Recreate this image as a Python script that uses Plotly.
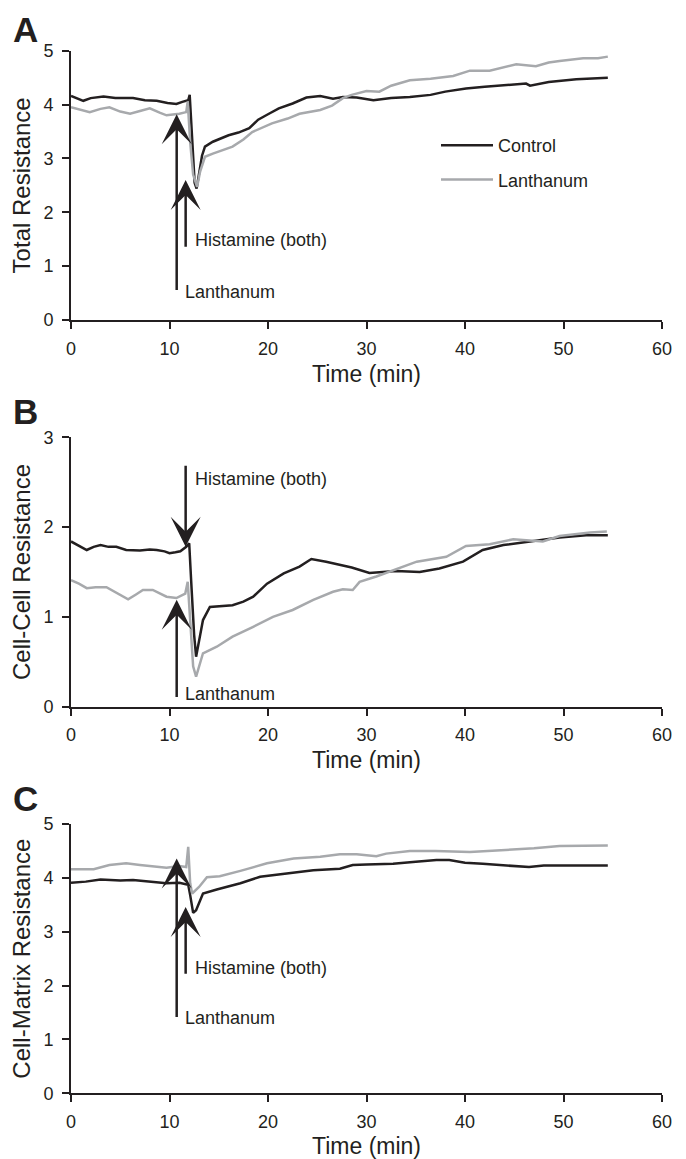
import plotly.graph_objects as go

# ---------------- data ----------------
# Panel A: Total Resistance
t_a_ctrl = [0, 0.6, 1.25, 2.0, 3.3, 4.5, 6.3, 7.5, 8.7, 9.8, 10.7, 11.3, 11.9, 12.05, 12.3, 12.55,
            12.75, 13.0, 13.3, 13.6, 14.4, 16.0, 17.0, 18.1, 19.0, 20.0, 21.1, 22.5, 23.9, 25.3,
            26.6, 27.6, 29.0, 30.7, 32.5, 34.4, 36.5, 38.0, 40.1, 42.0, 44.0, 46.2, 46.6, 48.5,
            51.3, 53.0, 54.5]
r_a_ctrl = [4.16, 4.12, 4.07, 4.12, 4.15, 4.12, 4.12, 4.08, 4.07, 4.03, 4.01, 4.05, 4.08, 4.18, 3.3, 2.55,
            2.44, 2.7, 3.05, 3.22, 3.31, 3.43, 3.48, 3.56, 3.72, 3.82, 3.93, 4.02, 4.13, 4.16,
            4.11, 4.14, 4.13, 4.08, 4.12, 4.14, 4.18, 4.24, 4.30, 4.33, 4.36, 4.39, 4.35, 4.42,
            4.47, 4.48, 4.50]
t_a_lan = [0, 1.0, 1.9, 3.0, 3.9, 5.0, 6.0, 7.0, 8.0, 9.0, 9.7, 11.0, 11.7, 11.85, 12.1, 12.4,
           12.8, 13.1, 13.6, 14.4, 16.4, 17.5, 18.4, 20.4, 22.0, 23.2, 25.3, 26.5, 27.6, 28.5,
           30.0, 31.3, 32.5, 34.4, 36.5, 38.8, 40.5, 42.5, 44.0, 45.2, 47.2, 48.5, 49.6, 52.0,
           53.5, 54.5]
r_a_lan = [3.95, 3.90, 3.86, 3.92, 3.95, 3.87, 3.83, 3.88, 3.93, 3.85, 3.80, 3.83, 3.86, 4.06, 3.3, 2.7,
           2.47, 2.75, 3.03, 3.09, 3.22, 3.35, 3.49, 3.65, 3.74, 3.83, 3.90, 3.98, 4.12, 4.18,
           4.25, 4.24, 4.35, 4.45, 4.48, 4.53, 4.63, 4.63, 4.70, 4.75, 4.71, 4.78, 4.81, 4.86,
           4.86, 4.89]

# Panel B: Cell-Cell Resistance
t_b_ctrl = [0, 0.8, 1.6, 2.3, 3.0, 3.8, 4.6, 5.6, 7.0, 8.0, 8.7, 9.5, 10.0, 10.6, 11.1, 11.7,
            12.0, 12.2, 12.5, 12.7, 13.0, 13.4, 14.1, 15.0, 16.4, 17.5, 18.5, 19.9, 21.6, 23.2,
            24.4, 25.9, 27.3, 28.5, 30.3, 33.0, 35.4, 37.4, 39.8, 41.8, 43.9, 46.6, 49.6, 52.3,
            54.5]
r_b_ctrl = [1.84, 1.79, 1.745, 1.78, 1.80, 1.78, 1.78, 1.745, 1.74, 1.75, 1.745, 1.73, 1.71, 1.72, 1.73, 1.78,
            1.82, 1.4, 0.8, 0.557, 0.75, 0.965, 1.11, 1.12, 1.13, 1.17, 1.225, 1.37, 1.485, 1.56,
            1.645, 1.615, 1.58, 1.55, 1.49, 1.51, 1.50, 1.54, 1.615, 1.745, 1.80, 1.84, 1.885, 1.91,
            1.91]
t_b_lan = [0, 0.8, 1.6, 2.5, 3.6, 4.7, 5.8, 6.6, 7.3, 8.3, 9.0, 9.7, 10.7, 11.6, 11.85, 12.1,
           12.4, 12.7, 13.0, 13.4, 14.8, 16.4, 18.5, 20.5, 22.5, 24.6, 26.6, 27.6, 28.6, 29.3,
           31.0, 33.0, 35.1, 38.1, 40.1, 42.5, 44.9, 47.9, 49.6, 52.7, 54.4]
r_b_lan = [1.41, 1.37, 1.32, 1.33, 1.33, 1.26, 1.195, 1.25, 1.30, 1.30, 1.26, 1.225, 1.21, 1.26, 1.39, 0.9,
           0.45, 0.334, 0.45, 0.595, 0.668, 0.78, 0.89, 1.00, 1.077, 1.19, 1.28, 1.307, 1.30, 1.39,
           1.45, 1.53, 1.615, 1.67, 1.79, 1.81, 1.864, 1.84, 1.90, 1.94, 1.95]

# Panel C: Cell-Matrix Resistance
t_c_ctrl = [0, 1.5, 3.0, 5.0, 6.3, 8.0, 9.7, 11.0, 11.9, 12.1, 12.4, 12.7, 13.4, 14.8, 17.2, 19.2,
            21.9, 24.6, 27.3, 28.6, 30.0, 32.7, 35.0, 37.1, 38.4, 40.0, 41.8, 44.5, 46.5, 48.0,
            49.6, 52.0, 54.5]
r_c_ctrl = [3.91, 3.93, 3.97, 3.95, 3.96, 3.93, 3.90, 3.91, 3.87, 3.68, 3.35, 3.40, 3.71, 3.785, 3.90, 4.02,
            4.08, 4.14, 4.17, 4.24, 4.25, 4.26, 4.30, 4.33, 4.33, 4.28, 4.26, 4.22, 4.20, 4.23,
            4.23, 4.22, 4.23]
t_c_lan = [0, 2.3, 3.9, 5.6, 7.0, 8.0, 9.7, 11.0, 11.7, 11.9, 12.1, 12.3, 13.0, 13.8, 15.1, 17.2,
           19.9, 22.6, 25.3, 27.3, 29.0, 31.0, 32.0, 34.4, 37.0, 40.5, 42.5, 44.5, 47.0, 49.6,
           52.0, 54.5]
r_c_lan = [4.16, 4.16, 4.24, 4.27, 4.24, 4.22, 4.19, 4.22, 4.20, 4.575, 3.9, 3.71, 3.83, 4.01, 4.03, 4.13,
           4.27, 4.36, 4.39, 4.44, 4.44, 4.40, 4.45, 4.50, 4.50, 4.48, 4.50, 4.53, 4.55, 4.59,
           4.59, 4.60]

series_names = ["Control", "Lanthanum"]
panel_letters = ["A", "B", "C"]
y_titles = ["Total Resistance", "Cell-Cell Resistance", "Cell-Matrix Resistance"]
y_max = [5, 3, 5]
x_ticks = [0, 10, 20, 30, 40, 50, 60]

# arrows per panel: (label, x, tail_y, tip_y, label_x, label_y)
arrows = [
    [("Lanthanum", 10.73, 0.53, 3.82, 11.37, 0.52), ("Histamine (both)", 11.64, 1.33, 2.60, 12.36, 1.48)],
    [("Lanthanum", 10.73, 0.09, 1.19, 11.37, 0.14), ("Histamine (both)", 11.64, 2.70, 1.78, 12.36, 2.535)],
    [("Lanthanum", 10.73, 1.39, 4.36, 11.37, 1.39), ("Histamine (both)", 11.64, 2.19, 3.46, 12.36, 2.32)],
]

# ---------------- figure ----------------
OFF = 8                      # page body margin of the browser
W, H = 686 - OFF, 1159 - OFF
BLACK = "#231f20"
GRAY = "#a7a9ac"
FONT = "Liberation Sans, Arial, Helvetica, sans-serif"
ML, MR = 71 - OFF, 24
PW = W - ML - MR

# panel pixel extents in the page (top of y range, bottom at 0)
panel_px = [(50.7, 320.0), (437.3, 706.7), (824.0, 1093.3)]
# top of the panel-letter text boxes (page pixels)
letter_top_px = [8.0, 390.0, 777.0]


def py2paper(py):
    return 1 - (py - OFF) / H


def px2paper(px):
    return (px - OFF - ML) / PW


fig = go.Figure()
data = [
    ((t_a_ctrl, r_a_ctrl), (t_a_lan, r_a_lan)),
    ((t_b_ctrl, r_b_ctrl), (t_b_lan, r_b_lan)),
    ((t_c_ctrl, r_c_ctrl), (t_c_lan, r_c_lan)),
]
for i, ((tc, rc), (tl, rl)) in enumerate(data):
    xr = "x" if i == 0 else f"x{i+1}"
    yr = "y" if i == 0 else f"y{i+1}"
    fig.add_trace(go.Scatter(x=tc, y=rc, mode="lines", name=series_names[0],
                             line=dict(color=BLACK, width=2.5), xaxis=xr, yaxis=yr,
                             showlegend=(i == 0), legendgroup="c"))
    fig.add_trace(go.Scatter(x=tl, y=rl, mode="lines", name=series_names[1],
                             line=dict(color=GRAY, width=2.5), xaxis=xr, yaxis=yr,
                             showlegend=(i == 0), legendgroup="l"))

layout = dict(
    width=W, height=H,
    margin=dict(l=ML, r=MR, t=0, b=0),
    paper_bgcolor="white", plot_bgcolor="white",
    font=dict(family=FONT, color=BLACK, size=18),
    legend=dict(x=px2paper(436), y=py2paper(127), xanchor="left", yanchor="top",
                font=dict(size=18, color=BLACK), bgcolor="rgba(0,0,0,0)",
                itemwidth=52, tracegroupgap=8, traceorder="grouped"),
    annotations=[],
)

for i in range(3):
    top, bot = panel_px[i]
    sfx = "" if i == 0 else str(i + 1)
    dom = [py2paper(bot), py2paper(top)]
    axcommon = dict(showline=True, linecolor=BLACK, linewidth=2, ticks="outside",
                    ticklen=7, tickwidth=1.5, tickcolor=BLACK, showgrid=False,
                    zeroline=False, automargin=False, tickfont=dict(size=18, color=BLACK))
    layout["xaxis" + sfx] = dict(axcommon, domain=[0, 1], range=[0, 60], tickvals=x_ticks,
                                 anchor="y" + sfx, ticklabelstandoff=4,
                                 title=dict(text="Time (min)", font=dict(size=23, color=BLACK),
                                            standoff=8))
    layout["yaxis" + sfx] = dict(axcommon, domain=dom, range=[0, y_max[i]], dtick=1,
                                 anchor="x" + sfx, ticklabelstandoff=5,
                                 title=dict(text=y_titles[i], font=dict(size=24, color=BLACK),
                                            standoff=6))
    # panel letter
    layout["annotations"].append(dict(text="<b>" + panel_letters[i] + "</b>", xref="paper", yref="paper",
                                      x=px2paper(11), y=min(1.0, py2paper(letter_top_px[i])),
                                      xanchor="left", yanchor="top", showarrow=False,
                                      font=dict(size=35, color=BLACK, family=FONT)))
    xr = "x" + sfx
    yr = "y" + sfx
    for (lab, ax_x, tail, tip, lx, ly) in arrows[i]:
        layout["annotations"].append(dict(text="", x=ax_x, y=tip, ax=ax_x, ay=tail,
                                          xref=xr, yref=yr, axref=xr, ayref=yr,
                                          showarrow=True, arrowhead=3, arrowsize=2.0,
                                          arrowwidth=2.5, arrowcolor=BLACK, standoff=0))
        layout["annotations"].append(dict(text=lab, x=lx, y=ly, xref=xr, yref=yr,
                                          xanchor="left", yanchor="middle", showarrow=False,
                                          font=dict(size=18, color=BLACK, family=FONT)))

fig.update_layout(**layout)
fig.write_html("out.html")
